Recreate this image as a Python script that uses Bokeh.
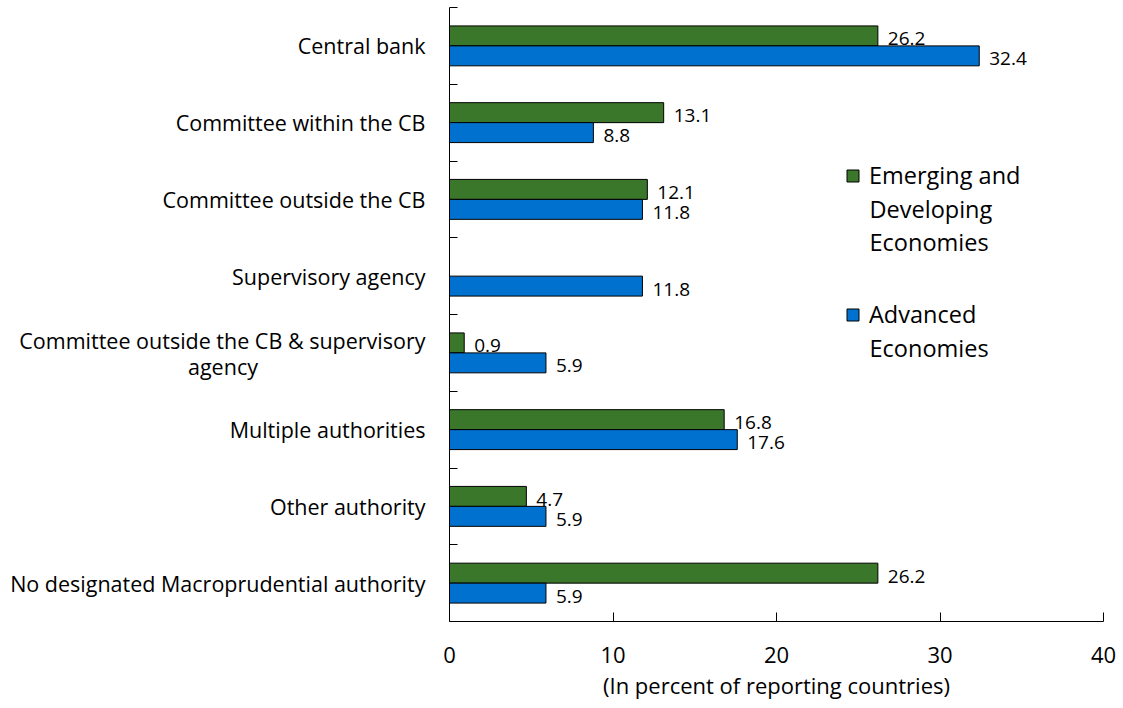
from bokeh.plotting import figure
from bokeh.models import ColumnDataSource, Range1d, FixedTicker, Legend, LegendItem, LabelSet, Label
from bokeh.core.properties import value
from bokeh.embed import file_html
from bokeh.resources import INLINE

categories = ["Central bank", "Committee within the CB", "Committee outside the CB",
              "Supervisory agency", "Committee outside the CB & supervisory\nagency",
              "Multiple authorities", "Other authority",
              "No designated Macroprudential authority"]
emerging = [26.2, 13.1, 12.1, 0.0, 0.9, 16.8, 4.7, 26.2]
advanced = [32.4, 8.8, 11.8, 11.8, 5.9, 17.6, 5.9, 5.9]
x_ticks = [0, 10, 20, 30, 40]

GREEN = "#3B772A"
BLUE = "#0071CE"
FONT = "Open Sans"

n = len(categories)
centers = [i + 0.5 for i in range(n)]
off = 0.13
bh = 0.26

src_e = ColumnDataSource(dict(y=[c - off for c in centers], v=emerging,
                              t=[("%.1f" % v) if v > 0 else "" for v in emerging]))
src_a = ColumnDataSource(dict(y=[c + off for c in centers], v=advanced,
                              t=[("%.1f" % v) if v > 0 else "" for v in advanced]))

p = figure(width=1120, height=706, output_backend="svg", toolbar_location=None,
           x_range=Range1d(0, 40), y_range=Range1d(n, 0),
           min_border_left=449, min_border_right=17, min_border_top=7, min_border_bottom=85)
p.outline_line_color = None
p.grid.grid_line_color = None

re = p.hbar(y="y", right="v", left=0, height=bh, source=src_e,
            fill_color=GREEN, line_color="black", line_width=1)
ra = p.hbar(y="y", right="v", left=0, height=bh, source=src_a,
            fill_color=BLUE, line_color="black", line_width=1)

for src in (src_e, src_a):
    p.add_layout(LabelSet(x="v", y="y", text="t", source=src, x_offset=10, y_offset=-3,
                          text_baseline="middle", text_align="left",
                          text_font=value(FONT), text_font_size="19px", text_color="black"))

# x axis
xa = p.xaxis[0]
xa.ticker = FixedTicker(ticks=x_ticks)
xa.major_tick_in = 9
xa.major_tick_out = 0
xa.minor_tick_in = 0
xa.minor_tick_out = 0
xa.axis_line_color = "black"
xa.major_tick_line_color = "black"
xa.major_label_text_font = FONT
xa.major_label_text_font_size = "22px"
xa.major_label_text_color = "black"
xa.major_label_standoff = 25
xa.axis_label = "(In percent of reporting countries)"
xa.axis_label_text_font = FONT
xa.axis_label_text_font_size = "22px"
xa.axis_label_text_font_style = "normal"
xa.axis_label_text_color = "black"
xa.axis_label_standoff = 4

# y axis: one label per category; the two-line one gets one tick per line,
# the second line padded so that it sits centred under the first
label_pos = []
label_txt = []
for c, lab in zip(centers, categories):
    if "\n" in lab:
        first, second = lab.split("\n")
        label_pos += [c - 0.161, c + 0.177]
        label_txt += [first, second + "\u00a0" * 30]
    else:
        label_pos.append(c)
        label_txt.append(lab)

ya = p.yaxis[0]
ya.ticker = FixedTicker(ticks=label_pos, minor_ticks=list(range(n)))
ya.major_label_overrides = dict(zip(label_pos, label_txt))
ya.major_tick_in = 0
ya.major_tick_out = 0
ya.minor_tick_in = 8
ya.minor_tick_out = 0
ya.minor_tick_line_color = "black"
ya.axis_line_color = "black"
ya.major_label_text_font = FONT
ya.major_label_text_font_size = "21.5px"
ya.major_label_text_color = "black"
ya.major_label_standoff = 24

legend = Legend(items=[LegendItem(label="Emerging and", renderers=[re]),
                       LegendItem(label="Advanced", renderers=[ra])],
                location=(396, 291))
legend.border_line_color = None
legend.background_fill_alpha = 0
legend.label_text_font = FONT
legend.label_text_font_size = "23.5px"
legend.label_text_color = "black"
legend.glyph_width = 15
legend.glyph_height = 15
legend.spacing = 107
legend.label_standoff = 9
legend.padding = 10
legend.margin = 0
p.add_layout(legend)

for txt, yy in (("Developing", 2.63), ("Economies", 3.05), ("Economies", 4.43)):
    p.add_layout(Label(x=25.69, y=yy, text=txt, text_align="left", text_baseline="middle",
                       text_font=FONT, text_font_size="23.5px", text_color="black"))

open("out.html", "w").write(file_html(p, INLINE))
